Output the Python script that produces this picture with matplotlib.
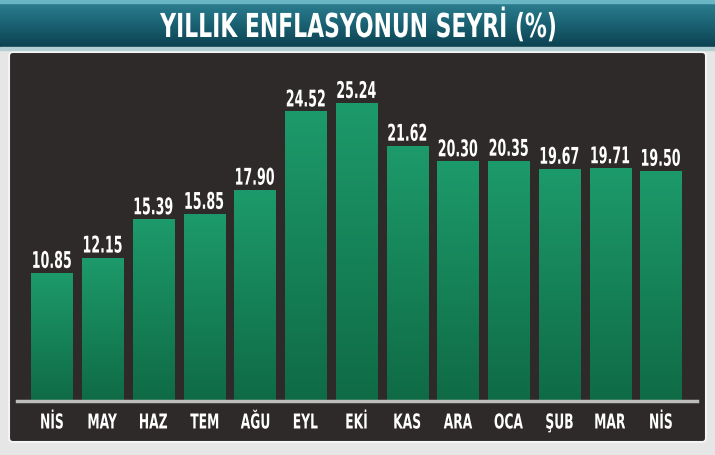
import matplotlib.pyplot as plt
import numpy as np
from matplotlib.patches import FancyBboxPatch, Rectangle, PathPatch
from matplotlib.textpath import TextPath
from matplotlib.font_manager import FontProperties
from matplotlib.transforms import Affine2D
from matplotlib.colors import LinearSegmentedColormap

months = ["NİS", "MAY", "HAZ", "TEM", "AĞU", "EYL", "EKİ", "KAS", "ARA", "OCA", "ŞUB", "MAR", "NİS"]
values = [10.85, 12.15, 15.39, 15.85, 17.90, 24.52, 25.24, 21.62, 20.30, 20.35, 19.67, 19.71, 19.50]
title = "YILLIK ENFLASYONUN SEYRİ (%)"

W, H = 715, 455
fig = plt.figure(figsize=(W / 100, H / 100), dpi=100)
fig.patch.set_facecolor('#e6e6e6')

bold = FontProperties(family='DejaVu Sans', weight='bold')


def cond_text(axp, x, y, s, em, sx, va='bottom', width=None, zorder=10):
    # condensed text drawn as a path, x,y in pixels (y up)
    tp = TextPath((0, 0), s, size=em, prop=bold)
    ext = tp.get_extents()
    if width is not None:
        sx = width / ext.width
    cx = (ext.x0 + ext.x1) / 2
    cap = 0.729 * em
    if va == 'bottom':
        dy = 0
    elif va == 'center':
        dy = -cap / 2
    tr = Affine2D().translate(-cx, 0).scale(sx, 1).translate(x, y + dy)
    axp.add_patch(PathPatch(tr.transform_path(tp), facecolor='white', edgecolor='none', zorder=zorder))


# background layer in pixel coords (y up)
bg = fig.add_axes([0, 0, 1, 1])
bg.set_xlim(0, W)
bg.set_ylim(0, H)
bg.axis('off')

# title banner
ban = LinearSegmentedColormap.from_list('ban', ['#0c4050', '#1a6273', '#2e8293'])
bg.imshow(np.linspace(0, 1, 50).reshape(-1, 1), extent=(0, W, H - 48, H), origin='lower',
          aspect='auto', cmap=ban, zorder=1)
bg.add_patch(Rectangle((0, H - 3), W, 3, color='#6ab6c5', zorder=2))
bg.add_patch(Rectangle((0, H - 50), W, 3, color='#b4cfd4', zorder=2))
cond_text(bg, W / 2, H - 37, title, 33, 0.6, width=395)

# dark panel
bg.add_patch(FancyBboxPatch((9, 13), 697, 390, boxstyle='round,pad=0,rounding_size=4',
                            facecolor='#2e2a29', edgecolor='#f4f4f4', linewidth=1.5, zorder=1))

# chart axes
ax = fig.add_axes([17 / W, (H - 401) / H, 680 / W, 346 / H])
ax.set_facecolor('none')
for s in ax.spines.values():
    s.set_visible(False)
ax.set_xticks([])
ax.set_yticks([])

cmap = LinearSegmentedColormap.from_list('g', ['#0f6b46', '#1d9a6b'])
x = np.arange(len(values))
bars = ax.bar(x, values, width=0.81, color='none', zorder=2)
for b, v in zip(bars, values):
    im = ax.imshow(np.linspace(0, 1, 100).reshape(-1, 1),
                   extent=(b.get_x(), b.get_x() + b.get_width(), 0, v),
                   origin='lower', aspect='auto', cmap=cmap, zorder=2)
    im.set_clip_path(b)
ax.axhline(0, color='#bdbdbd', linewidth=2.5, clip_on=False, zorder=3)
ax.set_xlim(-0.69, 12.71)
ax.set_ylim(0, 29.3)

# overlay for labels, pixel coords matching display
ov = fig.add_axes([0, 0, 1, 1])
ov.set_xlim(0, W)
ov.set_ylim(0, H)
ov.axis('off')
fig.canvas.draw()
for i, v in enumerate(values):
    px, py = ax.transData.transform((i, v))
    cond_text(ov, px, py + 5, f"{v:.2f}", 23, 0.55)
    mx, my = ax.transData.transform((i, 0))
    cond_text(ov, mx, my - 20, months[i], 20.5, 0.6, va='center')

fig.savefig('out.png', dpi=100, facecolor=fig.get_facecolor())
